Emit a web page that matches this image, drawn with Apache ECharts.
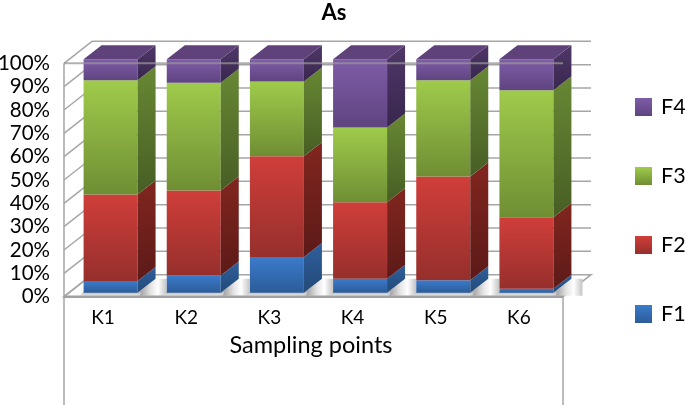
<!DOCTYPE html>
<html><head><meta charset="utf-8">
<style>html,body{margin:0;padding:0;background:#fff}#c{width:685px;height:405px}</style>
<script src="https://cdn.jsdelivr.net/npm/echarts@6/dist/echarts.min.js"></script>
</head><body><div id="c"></div>
<script>
const categories = ['K1','K2','K3','K4','K5','K6'];
const F1 = [5.0, 7.4, 15.3, 6.0, 5.3, 1.7];
const F2 = [37.1, 36.4, 43.2, 32.7, 44.5, 30.6];
const F3 = [48.9, 46.2, 32.0, 32.1, 41.2, 54.4];
const F4 = [9.0, 10.0, 9.5, 29.2, 9.0, 13.3];
const seriesNames = ['F1','F2','F3','F4'];
const seriesValues = [F1,F2,F3,F4];
const yTicks = [0,10,20,30,40,50,60,70,80,90,100];

const G = (a,b)=>new echarts.graphic.LinearGradient(0,0,0,1,[{offset:0,color:a},{offset:1,color:b}]);
const palette = [
  {f:['#3b7bcc','#2c5c98'], s:['#2f5f9c','#234a78']},
  {f:['#d03e3a','#962f2c'], s:['#82261f','#5c1a18']},
  {f:['#9fcb4b','#6f8e34'], s:['#688834','#475e24']},
  {f:['#7f5ca8','#5f4480'], s:['#4f3768','#38274e'], t:'#5e4279'}
];
const wallDX=28, wallDY=-22, barOffX=5, barOffY=-4, barW=54, depthX=18, depthY=-14;
const lineCol='#a6a6a6';

function lineShape(x1,y1,x2,y2,w,col,z){
  return {type:'line',shape:{x1,y1,x2,y2},style:{stroke:col||lineCol,lineWidth:w||1.5},z2:z||0,silent:true};
}
function wallItem(params,api){
  const cs=params.coordSys, L=cs.x, R=cs.x+cs.width;
  const y0=api.coord([0,0])[1];
  const ch=[];
  ch.push({type:'polygon',shape:{points:[[L,y0],[L+wallDX,y0+wallDY],[R+wallDX,y0+wallDY],[R,y0]]},
    style:{fill:'#fff',stroke:lineCol,lineWidth:1.5}});
  yTicks.forEach(v=>{
    const y=api.coord([0,v])[1];
    if(v>0) ch.push(lineShape(L+wallDX,y+wallDY,R+wallDX,y+wallDY));
    ch.push(lineShape(L,y,L+wallDX,y+wallDY));
  });
  const yTop=api.coord([0,100])[1];
  ch.push(lineShape(L,yTop,L,405));
  ch.push(lineShape(R,y0,R,405));
  return {type:'group',children:ch};
}
function shadowItem(params,api){
  const i=api.value(0);
  const cx=api.coord([i,0])[0]+barOffX, y=api.coord([i,0])[1]+barOffY;
  const l=cx-barW/2, r=cx+barW/2;
  const yBk=y+depthY;
  return {type:'group',children:[
    {type:'polygon',shape:{points:[[r,y],[r+depthX,yBk],[r+depthX+11,yBk],[r+29,y+3],[r,y+3]]},
      style:{fill:new echarts.graphic.LinearGradient(0,0,1,0,[{offset:0,color:'#8f8f8f'},{offset:0.45,color:'#e4e4e4'},{offset:0.7,color:'#ffffff'},{offset:1,color:'#c4c4c4'}])}},
    {type:'polygon',shape:{points:[[l-4,y+3],[r+2,y+3],[r+4,y-1],[l,y-1]]},
      style:{fill:new echarts.graphic.LinearGradient(0,0,0,1,[{offset:0,color:'#b5b5b5'},{offset:1,color:'#e8e8e8'}])}}
  ]};
}
function barItem(sIdx){
  return function(params,api){
    const i=api.value(0);
    let base=0; for(let k=0;k<sIdx;k++) base+=seriesValues[k][i];
    const top=base+api.value(1);
    const pB=api.coord([i,base]), pT=api.coord([i,top]);
    const l=pB[0]+barOffX-barW/2, r=l+barW, yB=pB[1]+barOffY, yT=pT[1]+barOffY;
    const c=palette[sIdx], ch=[];
    ch.push({type:'rect',shape:{x:l,y:yT,width:barW,height:yB-yT},style:{fill:G(c.f[0],c.f[1])}});
    ch.push({type:'polygon',shape:{points:[[r,yT],[r+depthX,yT+depthY],[r+depthX,yB+depthY],[r,yB]]},style:{fill:G(c.s[0],c.s[1])}});
    if(c.t) ch.push({type:'polygon',shape:{points:[[l,yT],[l+depthX,yT+depthY],[r+depthX,yT+depthY],[r,yT]]},style:{fill:c.t}});
    return {type:'group',children:ch};
  };
}
function frontLine(params,api){
  const cs=params.coordSys, y=api.coord([0,100])[1], y0=api.coord([0,0])[1];
  return {type:'group',children:[
    lineShape(cs.x,y,cs.x+cs.width,y,2,'rgba(150,150,150,0.75)'),
    lineShape(cs.x,y0,cs.x+cs.width,y0,2.5,'#a0a0a0')
  ]};
}
const catIdx=categories.map((_,i)=>i);
const series=[
  {type:'custom',name:'walls',coordinateSystem:'cartesian2d',data:[[0,0]],renderItem:wallItem,silent:true,z:1,clip:false},
  {type:'custom',name:'shadows',coordinateSystem:'cartesian2d',data:catIdx.map(i=>[i,0]),renderItem:shadowItem,silent:true,z:2,clip:false},
];
seriesNames.forEach((n,s)=>{
  series.push({type:'custom',name:n,coordinateSystem:'cartesian2d',z:3+s,clip:false,
    data:catIdx.map(i=>[i,seriesValues[s][i]]),encode:{x:0,y:1},renderItem:barItem(s),
    itemStyle:{color:G(palette[s].f[0],palette[s].f[1])}});
});
series.push({type:'custom',name:'front',coordinateSystem:'cartesian2d',data:[[0,0]],renderItem:frontLine,silent:true,z:10,clip:false});

const font='Lato';
const chart=echarts.init(document.getElementById('c'),null,{renderer:'canvas'});
chart.setOption({
  animation:false,
  backgroundColor:'#fff',
  title:{text:'As',left:334,top:2,padding:0,textAlign:'center',textStyle:{fontFamily:font,fontSize:22,fontWeight:'bold',color:'#000'}},
  legend:{orient:'vertical',left:635,top:96,padding:0,itemWidth:17,itemHeight:18,itemGap:47,icon:'rect',
    data:['F4','F3','F2','F1'],selectedMode:false,
    textStyle:{fontFamily:font,fontSize:21.5,color:'#000',padding:[0,0,0,4]}},
  grid:{left:64,top:63.3,width:499,height:233.4,containLabel:false,outerBoundsMode:'none'},
  xAxis:{type:'category',data:categories,name:'Sampling points',nameLocation:'middle',nameGap:37,
    nameTextStyle:{fontFamily:font,fontSize:23.5,color:'#000',padding:[0,5,0,0]},
    axisLine:{show:false},axisTick:{show:false},
    axisLabel:{margin:12,fontFamily:font,fontSize:19,color:'#000',padding:[0,5,0,0]}},
  yAxis:{type:'value',min:0,max:100,interval:10,splitLine:{show:false},axisLine:{show:false},axisTick:{show:false},
    axisLabel:{margin:14,formatter:'{value}%',fontFamily:font,fontSize:20.5,color:'#000'}},
  series
});
</script></body></html>
